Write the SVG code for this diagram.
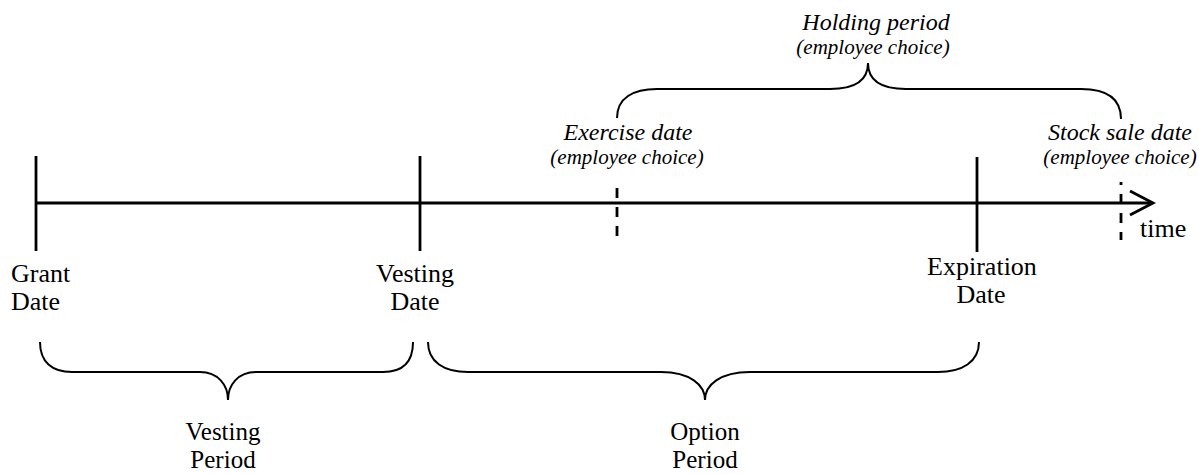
<svg xmlns="http://www.w3.org/2000/svg" width="1199" height="474" viewBox="0 0 1199 474">
<style>
.line{stroke:#000;stroke-width:2.8;fill:none}
.dash{stroke:#000;stroke-width:2.8;fill:none;stroke-dasharray:10 9}
.brace{stroke:#000;stroke-width:2;fill:none}
.lbl{font-family:"Liberation Serif","Times New Roman",serif;font-size:26px;fill:#000}
.per{font-family:"Liberation Serif","Times New Roman",serif;font-size:25px;fill:#000}
.it{font-family:"Liberation Serif","Times New Roman",serif;font-style:italic;font-size:24px;fill:#000}
.itc{font-family:"Liberation Serif","Times New Roman",serif;font-style:italic;font-size:21px;fill:#000}
</style>
<rect width="1199" height="474" fill="#fff"/>
<g id="connectors">
  <line class="line" x1="36" y1="203" x2="1151" y2="203"/>
  <polyline class="line" points="1130,191 1153,203 1130,215" stroke-width="3"/>
  <path class="brace" d="M617,118 C617,98 633,89 657,89 L830,89 C855,89 868,80 868,63 C868,80 881,89 906,89 L1081,89 C1107,89 1121,99 1121,119"/>
  <path class="brace" d="M40,342 C40,362 52,372 72,372 L200,372 C218,372 228,385 228,400 C228,385 238,372 256,372 L383,372 C403,372 413,362 413,342"/>
  <path class="brace" d="M428,342 C428,362 444,372 468,372 L661,372 C690,372 705,385 705,400 C705,385 720,372 750,372 L938,372 C962,372 979,362 979,342"/>
</g>
<g id="grant">
  <line class="line" x1="36" y1="156" x2="36" y2="251"/>
  <text class="lbl" x="11" y="282">Grant</text>
  <text class="lbl" x="11" y="310">Date</text>
</g>
<g id="vesting">
  <line class="line" x1="420" y1="156" x2="420" y2="251"/>
  <text class="lbl" x="415" y="282" text-anchor="middle">Vesting</text>
  <text class="lbl" x="415" y="310" text-anchor="middle">Date</text>
</g>
<g id="expiration">
  <line class="line" x1="977" y1="157" x2="977" y2="252"/>
  <text class="lbl" x="982" y="275" text-anchor="middle">Expiration</text>
  <text class="lbl" x="981" y="303" text-anchor="middle">Date</text>
</g>
<g id="exercise">
  <line class="dash" x1="617" y1="188" x2="617" y2="238"/>
  <text class="it" x="628" y="140" text-anchor="middle">Exercise date</text>
  <text class="itc" x="627" y="164" text-anchor="middle">(employee choice)</text>
</g>
<g id="stocksale">
  <line class="dash" x1="1121" y1="182" x2="1121" y2="240" stroke-dashoffset="7"/>
  <text class="it" x="1120" y="140" text-anchor="middle">Stock sale date</text>
  <text class="itc" x="1120" y="164" text-anchor="middle">(employee choice)</text>
</g>
<g id="holding">
  <text class="it" x="876" y="30" text-anchor="middle" font-size="23">Holding period</text>
  <text class="itc" x="873" y="54" text-anchor="middle">(employee choice)</text>
</g>
<g id="time">
  <text class="lbl" x="1140" y="237" font-size="24">time</text>
</g>
<g id="vestingperiod">
  <text class="per" x="223" y="440" text-anchor="middle">Vesting</text>
  <text class="per" x="223" y="468" text-anchor="middle">Period</text>
</g>
<g id="optionperiod">
  <text class="per" x="705" y="440" text-anchor="middle">Option</text>
  <text class="per" x="705" y="468" text-anchor="middle">Period</text>
</g>
</svg>
